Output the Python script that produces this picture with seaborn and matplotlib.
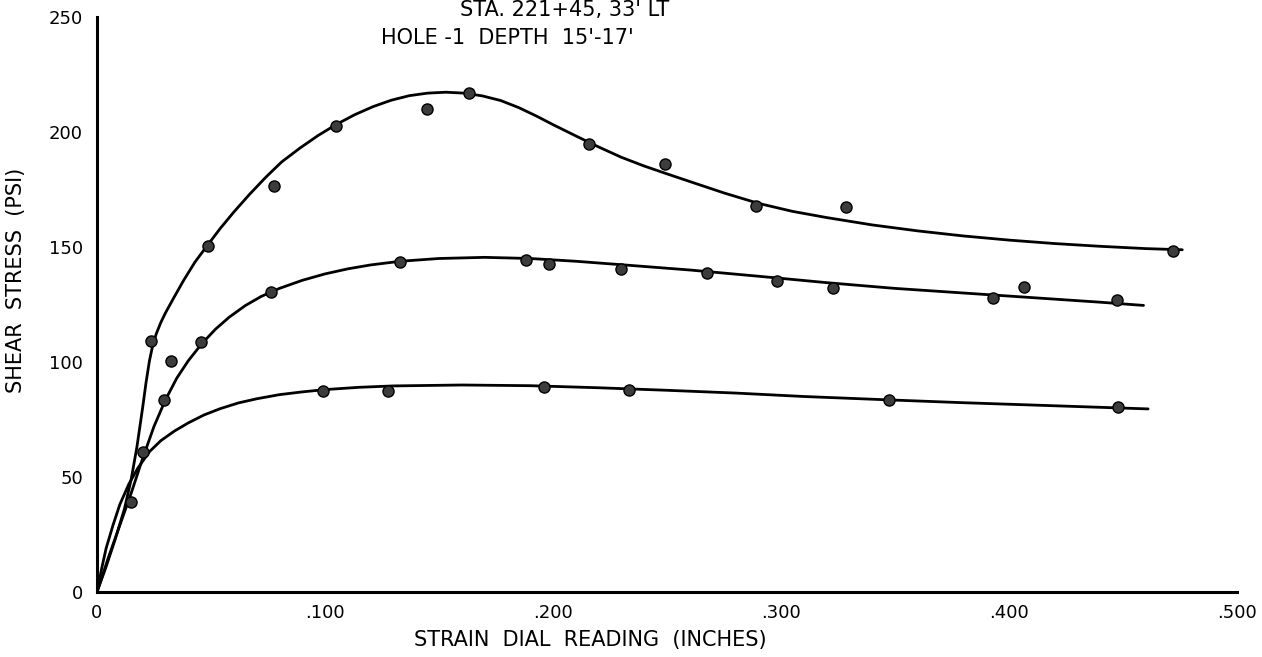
import matplotlib
matplotlib.use("Agg")
import matplotlib.pyplot as plt
import seaborn as sns
import pandas as pd

# ---- data ----
# fitted curves (hand-drawn lines), read as vertices
curve_high_x = [0, 0.004, 0.008, 0.012, 0.015, 0.0175, 0.020, 0.0215, 0.023, 0.0245, 0.026,
                0.028, 0.030, 0.034, 0.038, 0.043, 0.0485, 0.054, 0.060, 0.067, 0.074, 0.081,
                0.089, 0.097, 0.105, 0.113, 0.121, 0.129, 0.137, 0.145, 0.153, 0.161, 0.169,
                0.177, 0.185, 0.193, 0.200, 0.210, 0.220, 0.230, 0.240, 0.250, 0.262, 0.275,
                0.290, 0.305, 0.320, 0.340, 0.360, 0.380, 0.400, 0.420, 0.440, 0.460, 0.476]
curve_high_y = [0, 11, 23, 36, 49, 63, 80, 91, 100.5, 107.5, 112.3,
                117.2, 121.3, 128.5, 135.5, 143.5, 150.8, 158, 165.2, 173, 180.3, 187,
                193, 198.5, 203.3, 207.5, 211, 213.8, 215.8, 216.9, 217.3, 216.9, 215.7,
                213.7, 210.6, 206.8, 203.2, 198.3, 193.5, 189, 185.2, 181.8, 177.8, 173.5,
                169, 165.5, 162.8, 159.6, 157, 154.8, 153, 151.5, 150.3, 149.3, 148.8]

curve_mid_x = [0, 0.005, 0.010, 0.015, 0.020, 0.025, 0.030, 0.035, 0.040, 0.046, 0.052,
               0.058, 0.065, 0.072, 0.080, 0.090, 0.100, 0.110, 0.120, 0.133, 0.150, 0.170,
               0.190, 0.210, 0.230, 0.260, 0.290, 0.320, 0.350, 0.380, 0.410, 0.440, 0.459]
curve_mid_y = [0, 15, 29, 43, 58, 72, 83.5, 93, 100.5, 108, 114.3,
               119.5, 124.5, 128.5, 132, 135.5, 138.3, 140.5, 142.2, 143.8, 145, 145.5,
               145, 143.8, 142.3, 140, 137.3, 134.5, 132, 130, 128, 126, 124.6]

curve_low_x = [0, 0.002, 0.004, 0.007, 0.010, 0.014, 0.018, 0.023, 0.028, 0.034, 0.040,
               0.047, 0.054, 0.062, 0.070, 0.080, 0.090, 0.100, 0.115, 0.130, 0.160, 0.190,
               0.220, 0.250, 0.280, 0.310, 0.348, 0.380, 0.410, 0.440, 0.461]
curve_low_y = [0, 10, 19, 29, 38, 47, 54, 61, 65.8, 70, 73.5,
               77, 79.7, 82.2, 84, 85.8, 87, 88, 89, 89.6, 90, 89.7,
               88.8, 87.7, 86.5, 85, 83.5, 82.3, 81.3, 80.3, 79.6]

# measured test points
pts_high_x = [0.0237, 0.0485, 0.0778, 0.1048, 0.1449, 0.1633, 0.2159, 0.2491, 0.2889, 0.3285, 0.4721]
pts_high_y = [109.3, 150.4, 176.7, 202.7, 210.0, 217.0, 194.8, 185.9, 168.0, 167.3, 148.4]

pts_mid_x = [0.0149, 0.0203, 0.0295, 0.0325, 0.0456, 0.0763, 0.1329, 0.1882, 0.1984, 0.2298,
             0.2674, 0.2981, 0.3229, 0.3931, 0.4066, 0.4475]
pts_mid_y = [39.0, 61.0, 83.5, 100.6, 108.6, 130.3, 143.3, 144.3, 142.5, 140.3,
             138.6, 135.2, 132.3, 128.0, 132.7, 127.0]

pts_low_x = [0.0990, 0.1275, 0.1962, 0.2332, 0.3475, 0.4480]
pts_low_y = [87.5, 87.5, 89.3, 87.8, 83.5, 80.6]

x_ticks = [0, 0.05, 0.10, 0.15, 0.20, 0.25, 0.30, 0.35, 0.40, 0.45, 0.50]
x_tick_labels = ["0", "", ".100", "", ".200", "", ".300", "", ".400", "", ".500"]
y_ticks = [0, 50, 100, 150, 200, 250]
y_tick_labels = ["0", "50", "100", "150", "200", "250"]

title_line1 = "STA. 221+45, 33' LT"
title_line2 = "HOLE -1  DEPTH  15'-17'"
x_label = "STRAIN  DIAL  READING  (INCHES)"
y_label = "SHEAR  STRESS  (PSI)"

# ---- plotting ----
sns.set_theme(style="white")
plt.rcParams["font.family"] = ["DejaVu Sans"]

fig = plt.figure(figsize=(12.62, 6.57), dpi=100)
ax = fig.add_axes([97 / 1262, 65 / 657, 1140 / 1262, 575 / 657])

for cx, cy in [(curve_high_x, curve_high_y), (curve_mid_x, curve_mid_y), (curve_low_x, curve_low_y)]:
    df = pd.DataFrame({"x": cx, "y": cy})
    sns.lineplot(data=df, x="x", y="y", sort=False, estimator=None, color="black",
                 linewidth=2.0, ax=ax, zorder=2)

for px, py in [(pts_high_x, pts_high_y), (pts_mid_x, pts_mid_y), (pts_low_x, pts_low_y)]:
    df = pd.DataFrame({"x": px, "y": py})
    sns.scatterplot(data=df, x="x", y="y", s=64, color="#3c3c3c", edgecolor="black",
                    linewidth=1.0, ax=ax, zorder=3)

ax.set_xlim(0, 0.5)
ax.set_ylim(0, 250)
for side in ["top", "right"]:
    ax.spines[side].set_visible(False)
for side in ["left", "bottom"]:
    ax.spines[side].set_color("black")
    ax.spines[side].set_linewidth(2.2)

ax.set_xticks(x_ticks)
ax.set_xticklabels(x_tick_labels)
ax.set_yticks(y_ticks)
ax.set_yticklabels(y_tick_labels)
ax.tick_params(axis="x", direction="in", length=10, width=1.3, colors="black",
               labelsize=13, pad=9)
ax.tick_params(axis="y", direction="in", length=6, width=1.8, colors="black",
               labelsize=13, pad=10)

ax.set_xlabel(x_label, fontsize=15, color="black")
ax.xaxis.set_label_coords((590 - 97) / 1140, (592 - 630) / 575)
ax.set_ylabel(y_label, fontsize=15, color="black")
ax.yaxis.set_label_coords((26 - 97) / 1140, (592 - 280) / 575)
ax.grid(False)

fig.text(565 / 1262, 1 - 10 / 657, title_line1, ha="center", va="center", fontsize=15, color="black")
fig.text(507 / 1262, 1 - 38 / 657, title_line2, ha="center", va="center", fontsize=15, color="black")

fig.savefig("out.png", dpi=100, facecolor="white")
